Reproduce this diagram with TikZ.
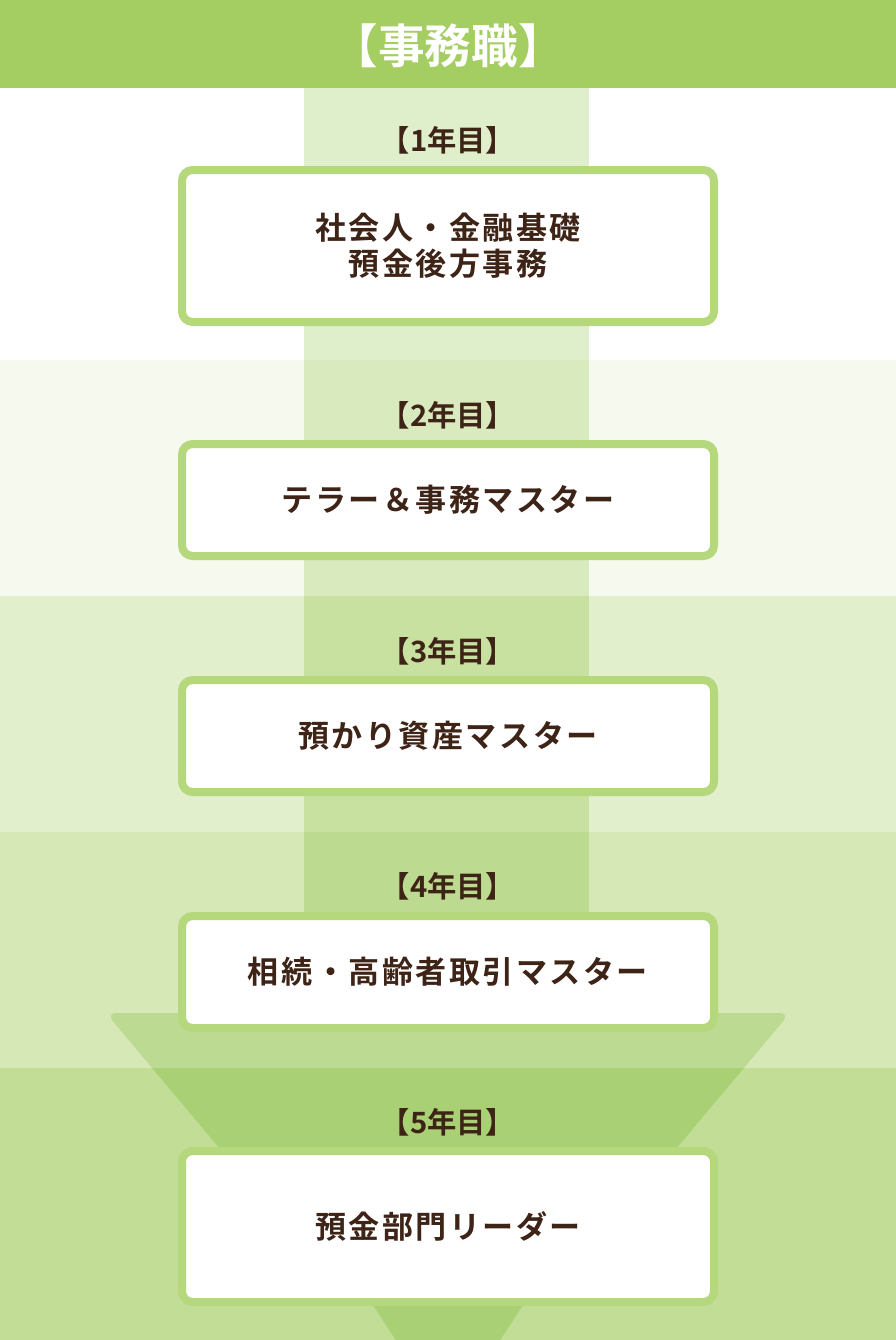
\documentclass[tikz,border=0pt]{standalone}
\usepackage{fontspec}
\setmainfont{Noto Sans CJK JP}[BoldFont={Noto Sans CJK JP Bold}]
\newfontfamily\cardfont{Noto Sans CJK JP Bold}[LetterSpace=8]
\usetikzlibrary{positioning}

\definecolor{headgreen}{HTML}{A5CE62}
\definecolor{bandtwo}{HTML}{F5F9EE}
\definecolor{bandthree}{HTML}{E1EFCC}
\definecolor{bandfour}{HTML}{D7E8B7}
\definecolor{bandfive}{HTML}{C2DE96}
\definecolor{colone}{HTML}{E0EFCB}
\definecolor{coltwo}{HTML}{D9EABF}
\definecolor{colthree}{HTML}{C8E1A1}
\definecolor{colfour}{HTML}{BCDA90}
\definecolor{funnelup}{HTML}{BCDA91}
\definecolor{funneldown}{HTML}{A9D074}
\definecolor{cardline}{HTML}{B5D87D}
\definecolor{textbrown}{HTML}{3E2317}

\tikzset{
  stepcard/.style={draw=cardline, line width=6pt, fill=white, rounded corners=8pt,
    minimum width=399pt, minimum height=84pt, inner sep=0pt, align=center,
    text=textbrown, font=\cardfont\fontsize{23.3pt}{27pt}\selectfont},
  yearlabel/.style={text=textbrown, inner sep=0pt, font=\bfseries\fontsize{22pt}{24pt}\selectfont},
}

\begin{document}
\begin{tikzpicture}[x=0.75pt, y=-0.75pt]
\useasboundingbox (0,0) rectangle (896,1340);

%%%%bands
\fill[white]     (0,88)   rectangle (896,360);
\fill[bandtwo]   (0,360)  rectangle (896,596);
\fill[bandthree] (0,596)  rectangle (896,832);
\fill[bandfour]  (0,832)  rectangle (896,1068);
\fill[bandfive]  (0,1068) rectangle (896,1340);

%%%%column
\fill[colone]   (304,88)  rectangle (589,360);
\fill[coltwo]   (304,360) rectangle (589,596);
\fill[colthree] (304,596) rectangle (589,832);
\fill[colfour]  (304,832) rectangle (589,1068);

%%%%header
\fill[headgreen] (0,0) rectangle (896,88);
\node[text=white, font=\bfseries\fontsize{35pt}{38pt}\selectfont] (title) at (448,46) {【事務職】};

%%%%funnel
\begin{scope}
  \clip (0,0) rectangle (896,1068);
  \fill[funnelup, rounded corners=8pt] (106,1013) -- (790,1013) -- (665,1162) -- (231,1162) -- cycle;
\end{scope}
\begin{scope}
  \clip (0,1068) rectangle (896,1340);
  \fill[funneldown, rounded corners=8pt] (106,1013) -- (790,1013) -- (665,1162) -- (231,1162) -- cycle;
\end{scope}
\fill[funneldown] (367,1296) -- (529,1296) -- (497,1345) -- (399,1345) -- cycle;

%%%%cards
\node[stepcard, minimum height=114pt] (card1) at (448,246) {社会人・金融基礎\\預金後方事務};
\node[stepcard] (card2) at (448,500) {テラー＆事務マスター};
\node[stepcard] (card3) at (448,736) {預かり資産マスター};
\node[stepcard] (card4) at (448,972) {相続・高齢者取引マスター};
\node[stepcard, minimum height=113.25pt] (card5) at (448,1226.5) {預金部門リーダー};

%%%%year labels
\node[yearlabel] (year1) at (448,140) {【1年目】};
\node[yearlabel] (year2) at (448,415) {【2年目】};
\node[yearlabel] (year3) at (448,651) {【3年目】};
\node[yearlabel] (year4) at (448,886) {【4年目】};
\node[yearlabel] (year5) at (448,1122) {【5年目】};

\end{tikzpicture}
\end{document}
